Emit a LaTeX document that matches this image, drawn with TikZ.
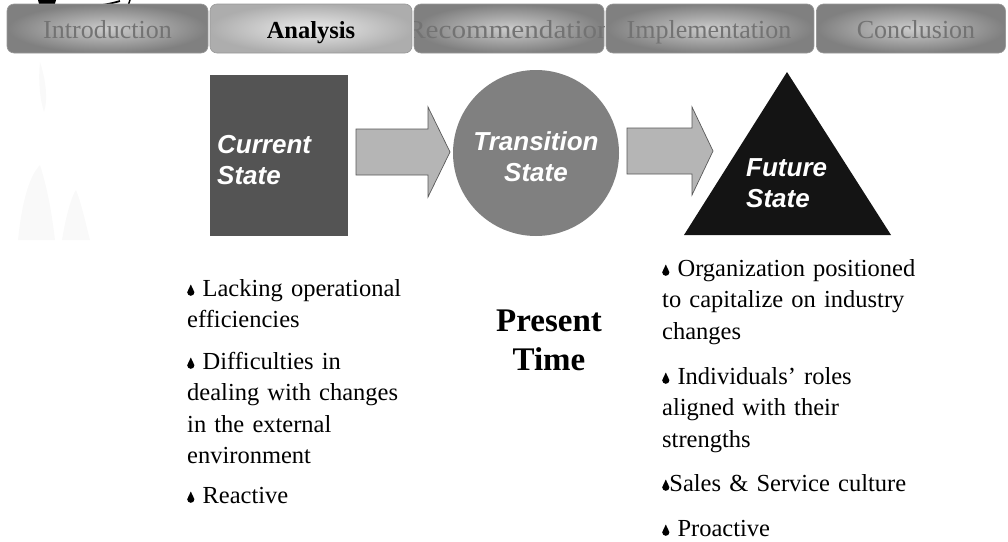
\documentclass[tikz,border=0pt]{standalone}
\usepackage{fontspec}
\setmainfont{Liberation Serif}
\newfontfamily\arialf{Liberation Sans}
\newcommand\dropb{\tikz[baseline=0pt,x=1pt,y=1pt]\fill[black] (-3.6,3.8) arc (180:360:3.6) -- (0,11.5) -- cycle;}
\tikzset{
  tabbox/.style={rounded corners=7pt, draw=black!40, line width=0.6pt, inner color=black!20, outer color=black!50, minimum height=49pt},
  tabon/.style={tabbox, inner color=black!8, outer color=black!32},
  tabtext/.style={font=\fontsize{26}{30}\selectfont, text=black!55, inner sep=0pt, anchor=base},
  statelabel/.style={font=\arialf\bfseries\itshape\fontsize{26}{31}\selectfont, text=white, inner sep=0pt},
  body/.style={font=\fontsize{24.5}{31.5}\selectfont, align=left, inner sep=0pt, anchor=base west, text width=300pt},
  blockarrow/.style={fill=gray!58, draw=black!65, line width=0.7pt, line join=miter},
  ghost/.style={fill=gray!5, draw=none}
}
\begin{document}
\begin{tikzpicture}[x=1pt,y=-1pt]
\useasboundingbox (0,0) rectangle (1008,541);
% faint ghost figure at left
\fill[ghost] (40,62) .. controls (46,80) and (48,100) .. (44,112) .. controls (40,100) and (38,80) .. cycle;
\fill[ghost] (18,240) .. controls (22,200) and (30,175) .. (40,165) .. controls (48,190) and (52,215) .. (55,240) -- cycle;
\fill[ghost] (62,240) .. controls (66,215) and (72,195) .. (76,190) .. controls (82,205) and (86,225) .. (90,240) -- cycle;
% logo fragment at top left
\fill[black] (38,0) -- (56,0) -- (54,7) -- (40,8) -- cycle;
\draw[line width=1.8pt] (54,6) .. controls (75,9) and (100,7) .. (120,1);
\draw[line width=1.5pt] (130,0) -- (127,9);
% tabs
\node[tabbox, minimum width=201pt] (t1) at (107.5,28.5) {};
\node[tabon, minimum width=202pt] (t2) at (311,28.5) {};
\node[tabbox, minimum width=190pt] (t3) at (509,28.5) {};
\node[tabbox, minimum width=208pt] (t4) at (710,28.5) {};
\node[tabbox, minimum width=189pt] (t5) at (911,28.5) {};
\node[tabtext] (l1) at (107.5,38) {Introduction};
\node[tabtext, text=black, font=\bfseries\fontsize{24.5}{30}\selectfont] (l2) at (311,38) {Analysis};
\begin{scope}
  \clip[rounded corners=7pt] (414,4) rectangle (604,53);
  \node[tabtext, xscale=1.12, transform shape] (l3) at (509,38) {Recommendation};
\end{scope}
\node[tabtext] (l4) at (709,38) {Implementation};
\node[tabtext] (l5) at (916,38) {Conclusion};
% states
\node[fill=black!67, draw=none, minimum width=138pt, minimum height=161pt, inner sep=0pt] (cur) at (279,155.5) {};
\node[circle, fill=black!50, minimum size=166pt, inner sep=0pt] (trans) at (536,153) {};
\draw[fill=black!92, draw=none] (787,72) -- (891,235) -- (684,235) -- cycle;
\coordinate (fut) at (787,170);
\draw[blockarrow] (356,129) -- (428,129) -- (428,107) -- (450,152) -- (428,197) -- (428,175) -- (356,175) -- cycle;
\draw[blockarrow] (627,128) -- (692,128) -- (692,107) -- (713,151) -- (692,195) -- (692,174) -- (627,174) -- cycle;
\node[statelabel, align=left, anchor=base west] (curl) at (217,184) {Current\\State};
\node[statelabel, align=center, anchor=base] (transl) at (536,181) {Transition\\State};
\node[statelabel, align=left, anchor=base west] (futl) at (746,207) {Future\\State};
% text columns
\node[body] (a1) at (187,296) {\dropb\ Lacking operational\\efficiencies};
\node[body] (a2) at (187,369) {\dropb\ Difficulties in\\dealing with changes\\in the external\\environment};
\node[body] (a3) at (187,503) {\dropb\ Reactive};
\node[font=\bfseries\fontsize{33}{39}\selectfont, align=center, inner sep=0pt, anchor=base] (pt) at (549,370) {Present\\Time};
\node[body] (b1) at (662,276) {\dropb\ Organization positioned\\to capitalize on industry\\changes};
\node[body] (b2) at (662,384) {\dropb\ Individuals' roles\\aligned with their\\strengths};
\node[body] (b3) at (662,491) {\dropb Sales \& Service culture};
\node[body] (b4) at (662,536) {\dropb\ Proactive};
\end{tikzpicture}
\end{document}
